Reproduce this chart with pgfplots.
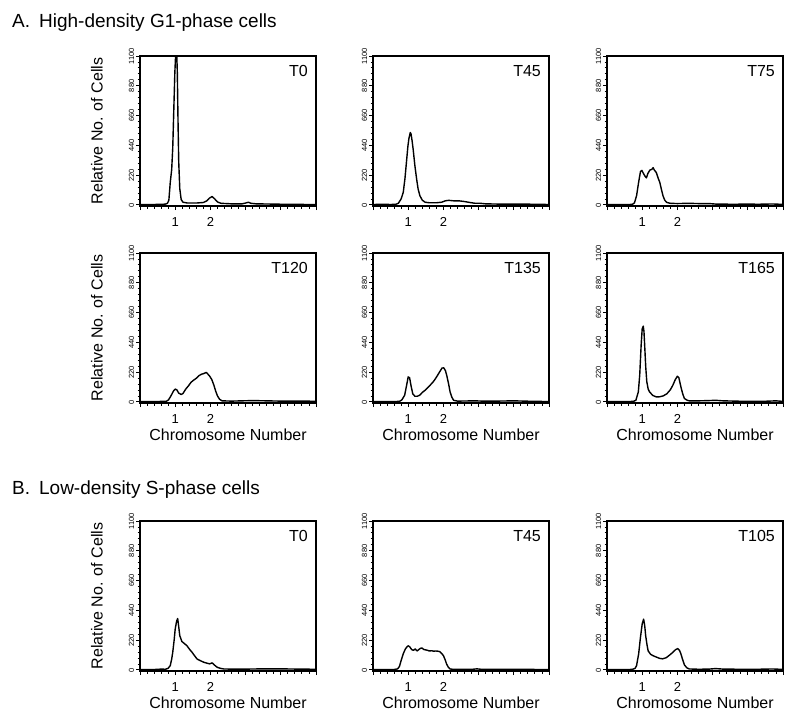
\documentclass[border=0pt]{standalone}
\usepackage{fontspec}
\setmainfont{Liberation Sans}
\usepackage{pgfplots}
\pgfplotsset{compat=1.18}

\pgfplotsset{
 flow/.style={
  scale only axis, width=176pt, height=150pt,
  xmin=0, xmax=5, ymin=-8, ymax=1100,
  xtick={0,1,2,3,4,5}, xticklabels={,1,2,,,},
  minor x tick num=4,
  ytick={0,220,440,660,880,1100},
  minor y tick num=4,
  tick align=outside, tick pos=left,
  major tick length=4pt, minor tick length=2.5pt,
  tick style={black, line width=0.9pt},
  axis line style={line width=1.2pt},
  yticklabel style={rotate=90, anchor=south, font=\fontsize{7.5}{8}\selectfont, inner sep=1.5pt},
  xticklabel style={font=\fontsize{13}{14}\selectfont, yshift=-4pt},
  /pgf/number format/1000 sep={},
  /pgf/number format/assume math mode=true,
  cycle list={{black, mark=none}},
  every axis plot post/.append style={line width=1.4pt, line join=round},
  label style={font=\fontsize{16}{18}\selectfont},
  ylabel style={at={(axis description cs:-0.245,0.5)}, anchor=center},
  xlabel style={at={(axis description cs:0.5,-0.213)}, anchor=center},
 },
}
\tikzset{plab/.style={anchor=north east, font=\fontsize{16}{17}\selectfont, inner sep=0pt}}

\begin{document}
\begin{tikzpicture}
\useasboundingbox (0,0) rectangle (798pt,-718pt);

\node[anchor=base west, font=\fontsize{19}{22}\selectfont, inner sep=0pt] at (12pt,-27pt) {A.\hspace{9pt}High-density G1-phase cells};
\node[anchor=base west, font=\fontsize{19}{22}\selectfont, inner sep=0pt] at (12pt,-494pt) {B.\hspace{9pt}Low-density S-phase cells};

% ---------- Row A1 ----------
\begin{axis}[flow, at={(140pt,-206pt)}, anchor=south west, ylabel={Relative No. of Cells}]
\addplot coordinates {(0,2)(0.3,3)(0.6,4)(0.72,6)(0.78,12)(0.82,35)(0.86,167)(0.9,260)(0.93,420)(0.96,700)(0.99,980)(1.02,1150)(1.04,1150)(1.06,980)(1.08,620)(1.1,320)(1.13,120)(1.17,40)(1.22,20)(1.35,14)(1.6,14)(1.8,18)(1.9,30)(1.97,50)(2.05,62)(2.12,45)(2.2,22)(2.3,12)(2.6,8)(2.9,8)(3.0,14)(3.08,20)(3.15,12)(3.3,8)(3.8,6)(4.3,4)(5,3)};
\node[plab] at (rel axis cs:0.955,0.94) {T0};
\end{axis}

\begin{axis}[flow, at={(373pt,-206pt)}, anchor=south west]
\addplot coordinates {(0,3)(0.3,5)(0.5,3)(0.65,5)(0.72,12)(0.8,45)(0.86,93)(0.91,200)(0.95,315)(0.99,430)(1.02,490)(1.06,535)(1.08,525)(1.11,475)(1.14,413)(1.19,290)(1.24,190)(1.28,120)(1.33,69)(1.4,35)(1.48,20)(1.6,16)(1.8,16)(1.95,20)(2.05,30)(2.15,34)(2.3,30)(2.45,30)(2.6,25)(2.75,18)(2.9,12)(3.05,12)(3.2,8)(3.6,6)(4.2,6)(4.6,5)(5,3)};
\node[plab] at (rel axis cs:0.955,0.94) {T45};
\end{axis}

\begin{axis}[flow, at={(607pt,-206pt)}, anchor=south west]
\addplot coordinates {(0,2)(0.5,2)(0.72,4)(0.78,15)(0.84,68)(0.9,170)(0.95,245)(0.99,255)(1.03,235)(1.08,212)(1.12,200)(1.16,232)(1.22,258)(1.27,262)(1.31,275)(1.35,255)(1.4,240)(1.45,200)(1.5,166)(1.55,110)(1.59,68)(1.64,35)(1.7,18)(1.8,12)(2.0,10)(2.3,12)(2.6,10)(2.9,10)(3.1,6)(3.6,5)(4.0,6)(4.3,5)(4.7,7)(5,4)};
\node[plab] at (rel axis cs:0.955,0.94) {T75};
\end{axis}

% ---------- Row A2 ----------
\begin{axis}[flow, at={(140pt,-403pt)}, anchor=south west, ylabel={Relative No. of Cells}, xlabel={Chromosome Number}]
\addplot coordinates {(0,3)(0.5,3)(0.75,5)(0.81,15)(0.88,45)(0.95,80)(1.0,95)(1.05,88)(1.1,65)(1.17,55)(1.22,62)(1.3,95)(1.38,120)(1.45,145)(1.52,160)(1.6,175)(1.68,195)(1.75,205)(1.82,210)(1.88,218)(1.93,205)(1.98,190)(2.04,165)(2.1,123)(2.15,80)(2.2,45)(2.26,20)(2.33,8)(2.6,6)(2.9,8)(3.2,10)(3.6,8)(4.0,6)(4.5,6)(5,5)};
\node[plab] at (rel axis cs:0.955,0.94) {T120};
\end{axis}

\begin{axis}[flow, at={(373pt,-403pt)}, anchor=south west, xlabel={Chromosome Number}]
\addplot coordinates {(0,2)(0.5,2)(0.75,4)(0.82,15)(0.9,50)(0.96,130)(1.0,185)(1.04,178)(1.08,120)(1.13,60)(1.19,42)(1.26,42)(1.33,50)(1.4,70)(1.48,86)(1.55,105)(1.62,123)(1.7,145)(1.77,170)(1.83,195)(1.9,225)(1.96,250)(2.01,252)(2.06,230)(2.1,190)(2.15,130)(2.19,74)(2.24,35)(2.29,12)(2.4,6)(2.9,8)(3.1,6)(3.5,6)(4.0,8)(4.3,6)(4.6,4)(5,3)};
\node[plab] at (rel axis cs:0.955,0.94) {T135};
\end{axis}

\begin{axis}[flow, at={(607pt,-403pt)}, anchor=south west, xlabel={Chromosome Number}]
\addplot coordinates {(0,2)(0.5,2)(0.75,4)(0.82,12)(0.89,74)(0.93,200)(0.97,420)(1.0,540)(1.03,560)(1.05,520)(1.07,419)(1.1,260)(1.13,150)(1.17,95)(1.21,74)(1.3,48)(1.4,37)(1.5,38)(1.6,45)(1.7,60)(1.8,90)(1.87,123)(1.94,165)(2.0,190)(2.04,180)(2.1,111)(2.15,60)(2.2,25)(2.28,12)(2.34,8)(2.6,8)(2.9,10)(3.08,12)(3.3,8)(3.8,5)(4.5,5)(4.8,8)(5,4)};
\node[plab] at (rel axis cs:0.955,0.94) {T165};
\end{axis}

% ---------- Row B ----------
\begin{axis}[flow, at={(140pt,-671pt)}, anchor=south west, ylabel={Relative No. of Cells}, xlabel={Chromosome Number}]
\addplot coordinates {(0,3)(0.4,3)(0.6,6)(0.72,5)(0.8,12)(0.86,32)(0.9,80)(0.93,130)(0.97,220)(1.0,302)(1.04,360)(1.07,380)(1.1,320)(1.13,253)(1.19,210)(1.26,195)(1.33,180)(1.4,155)(1.48,130)(1.55,105)(1.62,81)(1.7,70)(1.81,57)(1.9,50)(1.98,45)(2.05,52)(2.12,35)(2.19,20)(2.28,12)(2.38,7)(2.6,6)(3.0,6)(3.5,8)(4.0,8)(4.5,6)(5,5)};
\node[plab] at (rel axis cs:0.955,0.94) {T0};
\end{axis}

\begin{axis}[flow, at={(373pt,-671pt)}, anchor=south west, xlabel={Chromosome Number}]
\addplot coordinates {(0,2)(0.4,2)(0.6,3)(0.7,8)(0.75,25)(0.8,70)(0.86,120)(0.92,155)(0.98,175)(1.01,178)(1.05,168)(1.1,150)(1.15,145)(1.2,155)(1.25,140)(1.3,150)(1.35,160)(1.39,162)(1.45,150)(1.5,148)(1.55,145)(1.6,140)(1.67,142)(1.72,138)(1.78,140)(1.85,138)(1.9,135)(1.95,122)(2.0,106)(2.05,75)(2.09,44)(2.14,20)(2.19,7)(2.3,4)(2.8,4)(2.95,8)(3.1,4)(3.6,4)(4.2,4)(5,3)};
\node[plab] at (rel axis cs:0.955,0.94) {T45};
\end{axis}

\begin{axis}[flow, at={(607pt,-671pt)}, anchor=south west, xlabel={Chromosome Number}]
\addplot coordinates {(0,2)(0.5,2)(0.72,4)(0.8,12)(0.84,32)(0.9,120)(0.95,240)(1.0,340)(1.04,375)(1.07,330)(1.1,250)(1.14,180)(1.17,140)(1.24,115)(1.31,105)(1.4,95)(1.5,85)(1.58,82)(1.68,90)(1.78,110)(1.87,130)(1.95,150)(2.01,158)(2.06,145)(2.1,118)(2.15,75)(2.2,37)(2.27,15)(2.34,7)(2.6,5)(2.9,6)(3.08,10)(3.3,6)(3.8,5)(4.3,5)(4.7,7)(5,4)};
\node[plab] at (rel axis cs:0.955,0.94) {T105};
\end{axis}
\end{tikzpicture}
\end{document}
